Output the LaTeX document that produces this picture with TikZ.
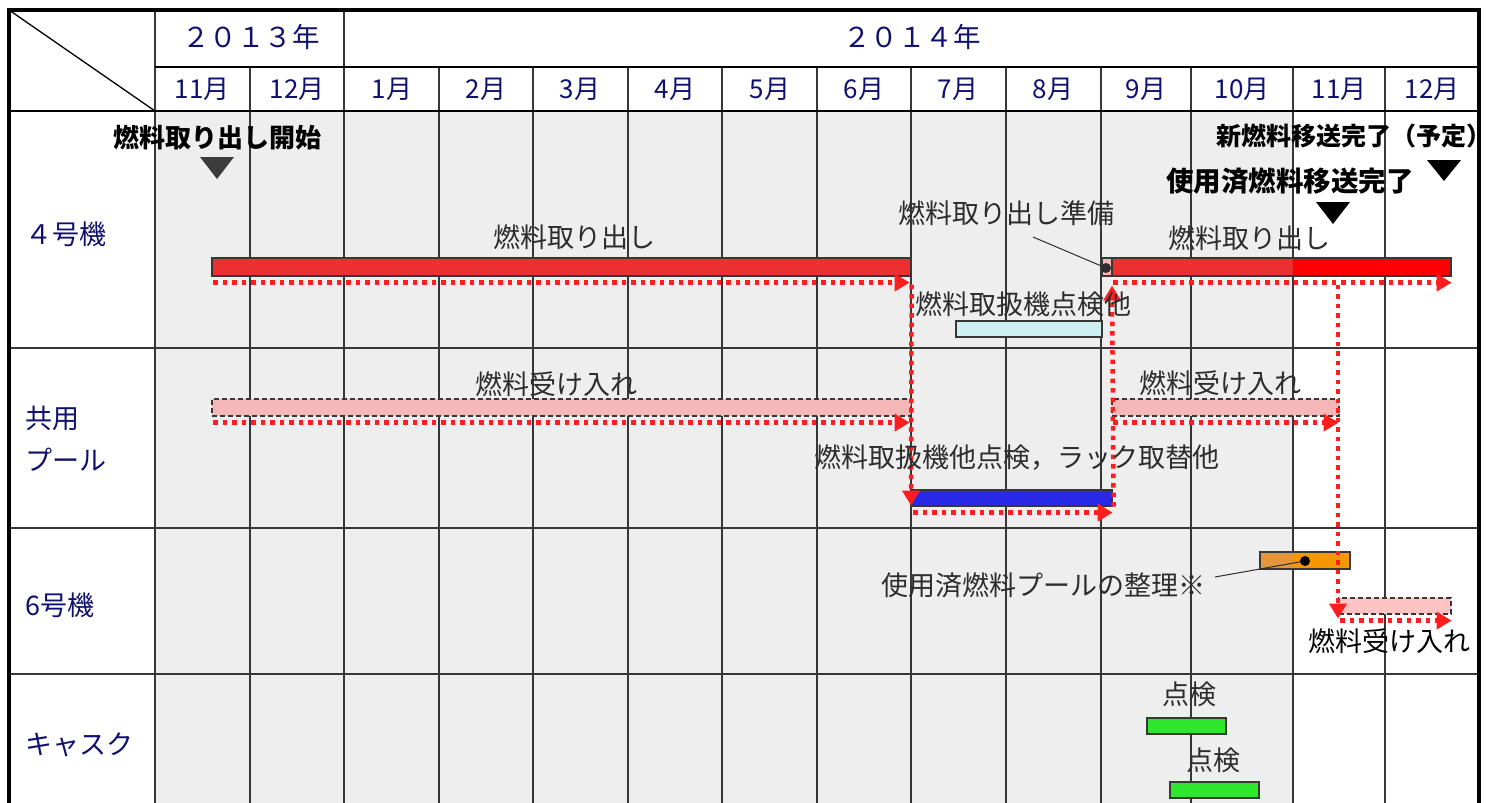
\documentclass[tikz,border=0pt]{standalone}
\usepackage{fontspec}
\setmainfont{Noto Sans CJK JP}
\usetikzlibrary{arrows.meta}
\definecolor{navytext}{RGB}{16,16,112}
\definecolor{gridc}{RGB}{55,55,55}
\definecolor{shadegray}{RGB}{238,238,238}
\definecolor{barred}{RGB}{236,48,48}
\definecolor{purered}{RGB}{255,0,0}
\definecolor{pinkbar}{RGB}{244,182,182}
\definecolor{pinkbright}{RGB}{255,195,195}
\definecolor{flowred}{RGB}{255,30,30}
\definecolor{cyanbar}{RGB}{205,240,240}
\definecolor{bluebar}{RGB}{40,40,230}
\definecolor{orangebar}{RGB}{245,152,0}
\definecolor{orangedim}{RGB}{228,150,60}
\definecolor{greenbar}{RGB}{45,230,45}
\definecolor{labelc}{RGB}{45,45,45}
\definecolor{tridark}{RGB}{60,60,60}
\tikzset{
  gridline/.style={draw=gridc, line width=1.5pt},
  headline/.style={draw=black, line width=1.5pt},
  bar/.style={draw=gridc, line width=1.6pt, inner sep=0pt, anchor=north west},
  dashbar/.style={bar, dash pattern=on 5pt off 3pt},
  flow/.style={draw=flowred, line width=4.5pt, dash pattern=on 4.5pt off 5pt,
    -{Triangle[length=15pt,width=17pt]}},
  leader/.style={draw=labelc, line width=1pt},
  lbl/.style={text=labelc, font=\fontsize{27}{30}\selectfont, inner sep=0pt},
  boldlbl/.style={text=black, font=\fontsize{26}{28}\selectfont\bfseries, inner sep=0pt},
  rowhead/.style={text=navytext, font=\fontsize{27}{30}\selectfont, inner sep=0pt, anchor=west},
  monthlbl/.style={text=navytext, font=\fontsize{26}{28}\selectfont, inner sep=0pt},
  yearlbl/.style={text=navytext, font=\fontsize{27.5}{30}\selectfont, inner sep=0pt},
  milestone/.style={fill=black}
}
\begin{document}
\begin{tikzpicture}[x=1pt,y=-1pt]
\useasboundingbox (0,0) rectangle (1499,803);
\fill[white] (0,0) rectangle (1499,803);
% shaded region
\fill[shadegray] (155,111) rectangle (1293,803);
% grid lines
\foreach \xx in {250,439,533,628,722,817,911,1006,1101,1191,1293,1385}
  \draw[gridline] (\xx,67) -- (\xx,803);
\draw[gridline] (155,10) -- (155,803);
\draw[gridline] (344,10) -- (344,803);
\draw[headline] (155,67) -- (1479,67);
\draw[headline] (9,111) -- (1479,111);
\foreach \yy in {348,528,674}
  \draw[gridline] (9,\yy) -- (1479,\yy);
\draw[line width=1.3pt] (9,10) -- (155,111);
% header texts
\node[yearlbl] (y13) at (251,37) {２０１３年};
\node[yearlbl] (y14) at (912,37) {２０１４年};
\foreach \cx/\m in {202/11月,297/12月,392/1月,486/2月,580/3月,675/4月,770/5月,864/6月,958/7月,1053/8月,1146/9月,1242/10月,1339/11月,1432/12月}
  \node[monthlbl] at (\cx,89) {\m};
% row headers
\node[rowhead] (r4) at (25,234) {４号機};
\node[rowhead] (rp1) at (25,418) {共用};
\node[rowhead] (rp2) at (25,460) {プール};
\node[rowhead] (r6) at (25,605) {6号機};
\node[rowhead] (rc) at (25,745) {キャスク};
% bars
\node[bar, fill=barred, minimum width=699pt, minimum height=18pt] (b4a) at (211,257) {};
\node[bar, fill=pinkbar, minimum width=10pt, minimum height=18pt] (b4prep) at (1101,257) {};
\fill[barred] (1111,257) rectangle (1293,275);
\fill[purered] (1293,257) rectangle (1450,275);
\node[bar, minimum width=339pt, minimum height=18pt] (b4b) at (1111,257) {};
\node[bar, fill=cyanbar, minimum width=146pt, minimum height=16pt] (bcy) at (955,320) {};
\node[dashbar, fill=pinkbar, minimum width=699pt, minimum height=17pt] (bpa) at (211,398) {};
\node[dashbar, fill=pinkbar, minimum width=227pt, minimum height=17pt] (bpb) at (1111,398) {};
\node[bar, fill=bluebar, minimum width=200pt, minimum height=16pt] (bbl) at (911,489) {};
\fill[orangedim] (1259,551) rectangle (1293,568);
\fill[orangebar] (1293,551) rectangle (1349,568);
\node[bar, minimum width=90pt, minimum height=17pt] (bor) at (1259,551) {};
\node[dashbar, fill=pinkbright, minimum width=112pt, minimum height=16pt] (b6p) at (1338,597) {};
\node[bar, fill=greenbar, minimum width=79pt, minimum height=16pt] (bg1) at (1146,717) {};
\node[bar, fill=greenbar, minimum width=89pt, minimum height=16pt] (bg2) at (1169,781) {};
% flow arrows
\draw[flow] ([xshift=2pt,yshift=-6pt]b4a.south west) -- ([xshift=-2pt,yshift=-6pt]b4a.south east);
\draw[flow] ([yshift=-8pt]b4a.south east) -- ([yshift=1pt]bbl.south west);
\draw[flow] ([xshift=2pt,yshift=-6pt]bpa.south west) -- ([xshift=-2pt,yshift=-6pt]bpa.south east);
\draw[flow] ([xshift=2pt,yshift=-6pt]bbl.south west) -- ([yshift=-6pt]bbl.south east);
\draw[flow] ([xshift=1pt]bbl.south east) -- ([xshift=1pt,yshift=-9pt]b4b.south west);
\draw[flow] ([xshift=2pt,yshift=-6pt]b4b.south west) -- ([yshift=-6pt]b4b.south east);
\draw[flow] ([xshift=2pt,yshift=-6pt]bpb.south west) -- ([xshift=-1pt,yshift=-6pt]bpb.south east);
\draw[flow] ([yshift=-8pt]b4b.south -| b6p.west) -- ([yshift=-4pt]b6p.south west);
\draw[flow] ([xshift=2pt,yshift=-6pt]b6p.south west) -- ([yshift=-6pt]b6p.south east);
% labels
\node[boldlbl] (m1) at (217,138) {燃料取り出し開始};
\node[boldlbl, font=\fontsize{25}{28}\selectfont\bfseries, anchor=east] (m2) at (1492,136) {新燃料移送完了（予定）};
\node[boldlbl, font=\fontsize{27.5}{30}\selectfont\bfseries] (m3) at (1290,181) {使用済燃料移送完了};
\fill[tridark] (200,157) -- (234,157) -- (217,179) -- cycle;
\fill[milestone] (1427,160) -- (1461,160) -- (1444,181) -- cycle;
\fill[milestone] (1316,202) -- (1350,202) -- (1333,224) -- cycle;
\node[lbl] (l1) at (574,237) {燃料取り出し};
\node[lbl] (l2) at (1006,213) {燃料取り出し準備};
\node[lbl] (l3) at (1249,238) {燃料取り出し};
\node[lbl] (l4) at (1023,304) {燃料取扱機点検他};
\node[lbl] (l5) at (556,384) {燃料受け入れ};
\node[lbl] (l6) at (1220,383) {燃料受け入れ};
\node[lbl] (l7) at (1017,458) {燃料取扱機他点検，ラック取替他};
\node[lbl] (l8) at (1043,585) {使用済燃料プールの整理※};
\node[lbl, text=black] (l9) at (1389,641) {燃料受け入れ};
\node[lbl] (l10) at (1189,694) {点検};
\node[lbl] (l11) at (1213,760) {点検};
% leaders
\coordinate (d1) at (1106,268);
\coordinate (d2) at (1305,561);
\draw[leader] (1033,237) -- (d1);
\fill[labelc] (d1) circle (5pt);
\draw[leader] (1215,577) -- (d2);
\fill[black] (d2) circle (5pt);
% outer border
\draw[line width=4pt] (9,803) -- (9,10) -- (1479,10) -- (1479,803);
\end{tikzpicture}
\end{document}
